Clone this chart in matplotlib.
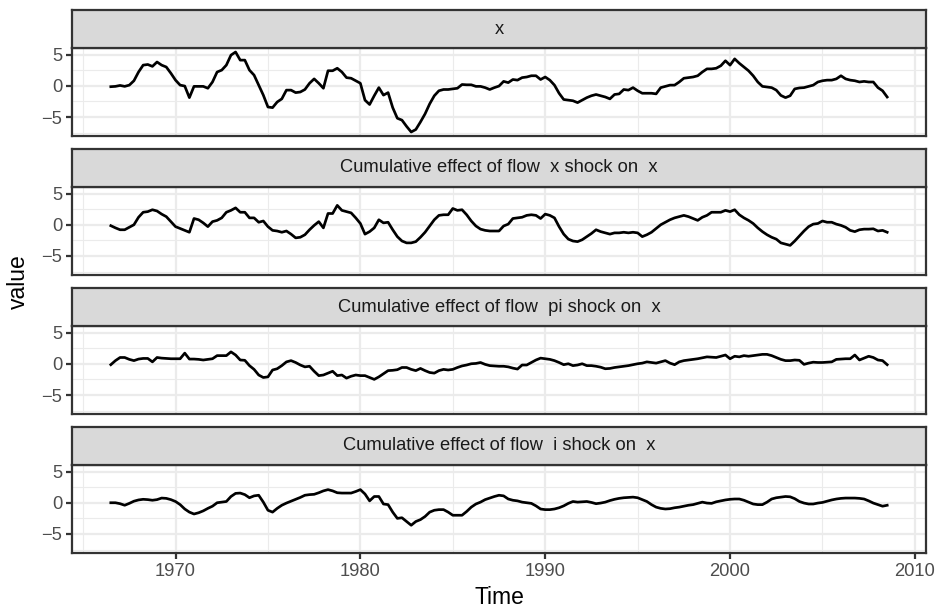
import numpy as np
import matplotlib
matplotlib.use("Agg")
import matplotlib.pyplot as plt
from matplotlib.ticker import MultipleLocator

plt.rcParams['font.family'] = ['Liberation Sans', 'DejaVu Sans']

# quarterly observations, 1966 Q3 .. 2008 Q3
start_year = 1966.5
quarter = 0.25

panel_titles = [
    "x",
    "Cumulative effect of flow  x shock on  x",
    "Cumulative effect of flow  pi shock on  x",
    "Cumulative effect of flow  i shock on  x",
]

x_vals = [
    -0.15, -0.1,
    0.05, -0.1, 0.1, 0.8,
    2.2, 3.3, 3.4, 3.1,
    3.8, 3.3, 3.0, 2.0,
    0.9, 0.1, -0.05, -1.9,
    -0.1, -0.1, -0.1, -0.4,
    0.6, 2.2, 2.5, 3.3,
    4.9, 5.4, 4.1, 4.1,
    2.5, 1.7, 0.1, -1.5,
    -3.4, -3.5, -2.6, -2.1,
    -0.7, -0.7, -1.1, -1.0,
    -0.6, 0.4, 1.1, 0.4,
    -0.4, 2.4, 2.4, 2.8,
    2.2, 1.3, 1.2, 0.8,
    0.4, -2.3, -3.0, -1.6,
    -0.3, -1.5, -1.1, -3.5,
    -5.2, -5.5, -6.5, -7.4,
    -7.0, -5.8, -4.5, -2.9,
    -1.6, -0.8, -0.6, -0.6,
    -0.5, -0.4, 0.2, 0.15,
    0.15, -0.1, -0.1, -0.3,
    -0.6, -0.3, -0.05, 0.7,
    0.5, 1.0, 0.9, 1.3,
    1.4, 1.6, 1.6, 1.0,
    1.4, 0.9, 0.1, -1.2,
    -2.2, -2.3, -2.4, -2.7,
    -2.3, -1.9, -1.6, -1.4,
    -1.6, -1.8, -2.1, -1.4,
    -1.3, -0.6, -0.7, -0.3,
    -0.8, -1.2, -1.2, -1.2,
    -1.3, -0.3, -0.1, 0.1,
    0.1, 0.6, 1.2, 1.3,
    1.4, 1.6, 2.2, 2.7,
    2.7, 2.8, 3.2, 4.0,
    3.3, 4.3, 3.6, 3.0,
    2.4, 1.6, 0.6, -0.1,
    -0.2, -0.3, -0.7, -1.55,
    -1.9, -1.6, -0.5, -0.35,
    -0.3, -0.1, 0.1, 0.6,
    0.8, 0.9, 0.9, 1.1,
    1.6, 1.1, 0.9, 0.8,
    0.6, 0.7, 0.6, 0.6,
    -0.3, -0.8, -1.8,
]

x_from_x = [
    -0.15, -0.5,
    -0.8, -0.8, -0.4, 0.0,
    1.2, 2.0, 2.1, 2.4,
    2.2, 1.7, 1.3, 0.5,
    -0.3, -0.6, -0.9, -1.2,
    1.0, 0.8, 0.3, -0.3,
    0.5, 0.7, 1.1, 2.0,
    2.3, 2.7, 2.0, 2.0,
    1.1, 1.1, 0.4, 0.6,
    -0.3, -0.9, -1.0, -1.2,
    -1.0, -1.5, -2.1, -2.0,
    -1.6, -0.8, -0.1, 0.5,
    -0.5, 1.8, 1.8, 3.1,
    2.3, 2.1, 1.9, 1.1,
    0.2, -1.5, -1.1, -0.5,
    0.8, 0.3, 0.4, -0.8,
    -1.9, -2.6, -2.9, -2.9,
    -2.7, -2.0, -1.2, -0.2,
    0.8, 1.5, 1.6, 1.6,
    2.6, 2.3, 2.4, 1.6,
    0.6, -0.2, -0.7, -0.9,
    -1.0, -1.0, -1.0, -0.2,
    0.1, 1.0, 1.1, 1.2,
    1.5, 1.6, 1.5, 1.0,
    1.7, 1.5, 1.1, -0.3,
    -1.5, -2.3, -2.6, -2.7,
    -2.4, -1.9, -1.4, -0.8,
    -1.1, -1.3, -1.5, -1.3,
    -1.3, -1.2, -1.3, -1.2,
    -1.3, -1.9, -1.6, -1.2,
    -0.6, 0.0, 0.4, 0.8,
    1.1, 1.3, 1.5, 1.3,
    1.0, 0.7, 1.2, 1.5,
    2.0, 2.0, 2.0, 2.3,
    2.1, 2.4, 1.6, 1.1,
    0.7, 0.2, -0.5, -1.1,
    -1.6, -2.0, -2.3, -2.9,
    -3.1, -3.3, -2.6, -1.8,
    -1.0, -0.3, 0.1, 0.2,
    0.6, 0.4, 0.4, 0.1,
    -0.1, -0.4, -0.9, -1.1,
    -0.8, -0.7, -0.7, -0.65,
    -1.0, -0.9, -1.2,
]

x_from_pi = [
    -0.15, 0.5,
    1.0, 1.0, 0.7, 0.5,
    0.75, 0.85, 0.85, 0.3,
    1.0, 0.9, 0.85, 0.8,
    0.8, 0.8, 1.7, 0.75,
    0.75, 0.7, 0.6, 0.7,
    0.8, 1.3, 1.3, 1.3,
    1.9, 1.4, 0.6, 0.55,
    -0.3, -0.9, -1.8, -2.2,
    -2.1, -1.0, -0.8, -0.3,
    0.3, 0.5, 0.2, -0.2,
    -0.5, -0.4, -1.2, -1.9,
    -1.8, -1.5, -1.2, -1.9,
    -1.8, -2.3, -2.0, -1.8,
    -1.9, -1.9, -2.2, -2.5,
    -2.1, -1.6, -1.1, -1.05,
    -0.95, -0.6, -0.6, -0.9,
    -1.1, -0.75, -1.1, -1.4,
    -1.5, -1.1, -0.9, -1.0,
    -0.9, -0.6, -0.35, -0.2,
    0.0, 0.05, 0.2, -0.1,
    -0.3, -0.35, -0.4, -0.4,
    -0.5, -0.7, -0.85, -0.2,
    -0.2, 0.2, 0.6, 0.9,
    0.8, 0.7, 0.5, 0.2,
    -0.15, 0.0, -0.3, -0.2,
    0.0, -0.3, -0.3, -0.4,
    -0.55, -0.8, -0.75, -0.6,
    -0.5, -0.4, -0.3, -0.15,
    0.0, 0.1, 0.3, 0.2,
    0.1, 0.3, 0.5, 0.1,
    -0.15, 0.3, 0.5, 0.6,
    0.7, 0.8, 0.95, 1.1,
    1.05, 1.0, 1.2, 1.4,
    0.8, 1.2, 1.1, 1.3,
    1.2, 1.3, 1.4, 1.5,
    1.5, 1.3, 1.0, 0.7,
    0.5, 0.5, 0.6, 0.55,
    -0.1, 0.1, 0.25, 0.2,
    0.2, 0.25, 0.3, 0.7,
    0.75, 0.8, 0.8, 1.4,
    0.6, 0.9, 1.2, 1.0,
    0.6, 0.5, -0.15,
]

x_from_i = [
    0.0, 0.0,
    -0.15, -0.4, -0.1, 0.25,
    0.45, 0.55, 0.5, 0.4,
    0.5, 0.75, 0.7, 0.5,
    0.2, -0.3, -1.0, -1.5,
    -1.8, -1.6, -1.3, -0.9,
    -0.55, 0.0, 0.1, 0.2,
    1.0, 1.5, 1.55, 1.3,
    0.8, 1.1, 1.2, 0.1,
    -1.2, -1.5, -0.9, -0.4,
    -0.05, 0.25, 0.55, 0.85,
    1.2, 1.3, 1.35, 1.6,
    1.9, 2.1, 1.9, 1.6,
    1.55, 1.55, 1.55, 1.8,
    2.1, 1.4, 0.3, 1.0,
    1.0, -0.2, -0.3, -1.5,
    -2.5, -2.4, -3.0, -3.6,
    -3.0, -2.7, -2.2, -1.5,
    -1.2, -1.1, -1.1, -1.5,
    -2.0, -2.0, -2.0, -1.4,
    -0.7, -0.2, 0.1, 0.5,
    0.75, 1.0, 1.2, 1.1,
    0.6, 0.4, 0.3, 0.1,
    0.0, -0.1, -0.5, -1.0,
    -1.1, -1.1, -1.0, -0.8,
    -0.5, -0.1, 0.2, 0.1,
    0.15, 0.2, 0.05, -0.15,
    -0.05, 0.1, 0.35, 0.55,
    0.7, 0.8, 0.85, 0.9,
    0.8, 0.5, 0.2, -0.3,
    -0.7, -0.9, -1.0, -0.95,
    -0.8, -0.7, -0.55, -0.4,
    -0.3, -0.1, 0.1, -0.05,
    -0.1, 0.15, 0.3, 0.45,
    0.55, 0.6, 0.6, 0.4,
    0.1, -0.2, -0.3, -0.3,
    0.1, 0.6, 0.8, 0.9,
    1.0, 0.95, 0.65, 0.2,
    -0.05, -0.2, -0.2, -0.05,
    0.05, 0.25, 0.45, 0.6,
    0.7, 0.75, 0.75, 0.75,
    0.7, 0.6, 0.3, -0.05,
    -0.3, -0.55, -0.4,
]

series = [x_vals, x_from_x, x_from_pi, x_from_i]
time = start_year + quarter * np.arange(len(x_vals))

# shared scales (ggplot style 5% expansion)
allv = np.concatenate([np.asarray(s) for s in series])
yr = allv.max() - allv.min()
ylim = (allv.min() - 0.05 * yr, allv.max() + 0.05 * yr)
xr = time[-1] - time[0]
xlim = (time[0] - 0.05 * xr, time[-1] + 0.05 * xr)

W, H = 937, 610
fig = plt.figure(figsize=(W / 150, H / 150), dpi=150)

left, right = 72, 926
strip_h, panel_h, step = 38, 88, 139
first_strip_top = 10

border = '#333333'
for i, (title, vals) in enumerate(zip(panel_titles, series)):
    s_top = first_strip_top + i * step
    p_top = s_top + strip_h
    ax = fig.add_axes([left / W, 1 - (p_top + panel_h) / H,
                       (right - left) / W, panel_h / H])
    sax = fig.add_axes([left / W, 1 - p_top / H,
                        (right - left) / W, strip_h / H])

    ax.plot(time, vals, color='black', lw=1.3, zorder=3)
    ax.set_xlim(xlim)
    ax.set_ylim(ylim)
    ax.xaxis.set_major_locator(MultipleLocator(10))
    ax.xaxis.set_minor_locator(MultipleLocator(5))
    ax.yaxis.set_major_locator(MultipleLocator(5))
    ax.yaxis.set_minor_locator(MultipleLocator(2.5))
    ax.grid(which='major', color='#EBEBEB', lw=1.07)
    ax.grid(which='minor', color='#EBEBEB', lw=0.53)
    ax.set_axisbelow(True)
    ax.tick_params(which='major', length=2.75, width=1.07, color=border,
                   labelsize=8.8, labelcolor='#4D4D4D', pad=2)
    ax.tick_params(which='minor', length=0)
    for sp in ax.spines.values():
        sp.set_color(border)
        sp.set_linewidth(1.07)
    if i < len(series) - 1:
        ax.tick_params(axis='x', which='major', length=0, labelbottom=False)

    sax.set_facecolor('#D9D9D9')
    sax.set_xticks([])
    sax.set_yticks([])
    for sp in sax.spines.values():
        sp.set_color(border)
        sp.set_linewidth(1.07)
    sax.text(0.5, 0.5, title, ha='center', va='center', fontsize=8.8,
             color='#1A1A1A', transform=sax.transAxes)

last_bottom = first_strip_top + 3 * step + strip_h + panel_h
fig.text(((left + right) / 2) / W, 1 - 597 / H, 'Time', ha='center', va='center',
         fontsize=11)
fig.text(18 / W, 1 - ((first_strip_top + last_bottom) / 2) / H, 'value',
         ha='center', va='center', rotation=90, fontsize=11)

fig.savefig('out.png', dpi=150)
